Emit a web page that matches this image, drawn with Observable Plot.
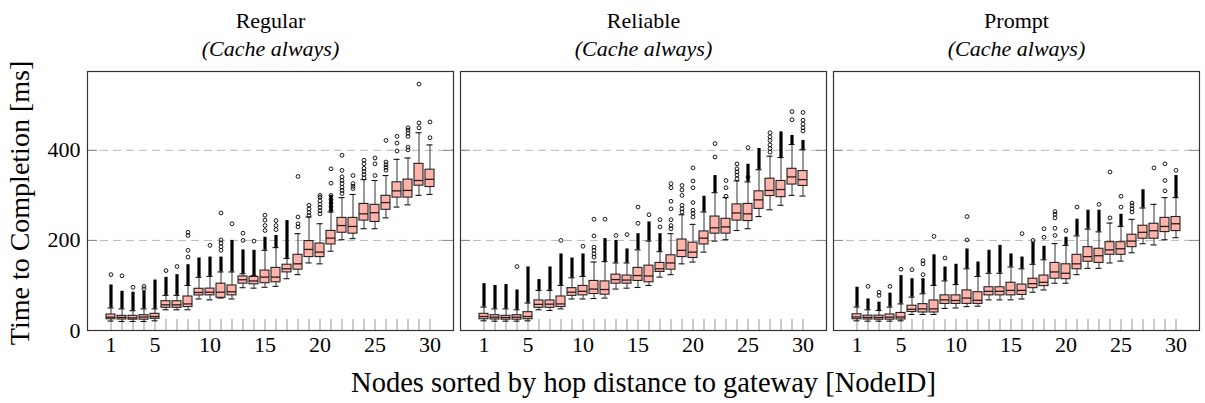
<!DOCTYPE html>
<html><head><meta charset="utf-8">
<script src="https://cdn.jsdelivr.net/npm/d3@7"></script>
<script src="https://cdn.jsdelivr.net/npm/@observablehq/plot@0.6"></script>
<style>
body{margin:0;background:#fff;}
#chart{width:1205px;height:403px;}
#chart svg text{font-family:'Liberation Serif','DejaVu Serif',serif;}
</style></head><body><div id="chart"></div>
<script>
const panels = ["Regular", "Reliable", "Prompt"];
const subtitle = "(Cache always)";
const xLabel = "Nodes sorted by hop distance to gateway [NodeID]";
const yLabel = "Time to Completion [ms]";
const nodes = d3.range(1, 31);
const xTickLabels = [1, 5, 10, 15, 20, 25, 30];
const yTickLabels = [0, 200, 400];
const gridValues = [200, 400];

// [node, lowWhisker, q1, median, q3, highWhisker, top of dense outlier column]
const regularStats = [
  [1, 21, 25, 29.6, 35.5, 50, 101], [2, 20, 24.4, 29, 32.6, 48, 87], [3, 20, 24, 28, 32.6, 44, 85],
  [4, 20, 24, 30, 34, 48, 87], [5, 21.5, 26, 31, 37, 48, 112], [6, 46, 50.4, 57, 65, 78, 118],
  [7, 46, 50.4, 57, 65, 78, 124], [8, 46, 52, 59, 75.5, 100, 146], [9, 70, 77.8, 84.4, 92.6, 118, 161],
  [10, 68, 78, 85, 93, 120, 163], [11, 72, 72.6, 85, 104, 130, 163], [12, 70, 78, 86, 100, 130, 200],
  [13, 95, 104, 112.6, 120, 126, 179], [14, 94, 102.5, 110, 119, 122, 178], [15, 96, 105, 118.5, 133, 178, 207],
  [16, 98, 107, 118.5, 139, 184, 211], [17, 115, 129, 137, 146, 160, 244], [18, 124, 135, 148, 168, 215, null],
  [19, 150, 163, 180, 198.5, 252, null], [20, 148, 163, 174, 193, 237, null], [21, 176, 191, 205, 221, 263, 300],
  [22, 201.5, 217, 233, 250, 295, null], [23, 204, 215, 231, 250, 302, null], [24, 226, 244, 259, 281, 335, null],
  [25, 226, 241, 261.5, 279, 333, null], [26, 250, 268, 284, 299, 344, null], [27, 274, 295, 310, 329, 380, null],
  [28, 279, 295, 311, 335, 383, null], [29, 300, 321.5, 333, 370, 439, null], [30, 302, 318.5, 335.5, 357, 412, null]
];
const reliableStats = [
  [1, 21.5, 25, 31, 37, 52, 104], [2, 20.7, 24.4, 29.6, 34, 48, 100], [3, 20.7, 24, 28.9, 32.6, 48, 102],
  [4, 20.7, 24, 29.6, 34, 46, 90], [5, 21.5, 25, 31, 40.7, 61, 141], [6, 46, 50.4, 58, 66.7, 89, 113],
  [7, 44.5, 50.4, 58.5, 66.7, 89, 141], [8, 48, 52, 59, 75.5, 100, 170], [9, 70, 77, 85, 94, 117, 161],
  [10, 70, 78, 87, 99, 120, 170], [11, 71, 81, 92, 110, 152, null], [12, 72, 79.5, 91, 109, 153, 204],
  [13, 92, 104, 113, 124, 150, 200], [14, 94, 104, 112, 122, 150, 181], [15, 95.5, 110, 122, 139, 179, 215],
  [16, 100, 107, 121, 144, 198.5, 241], [17, 118.5, 130, 137, 150, 175, 215], [18, 124, 135, 150, 167, 215, null],
  [19, 148, 163, 178, 202, 257, null], [20, 152, 161, 174, 195, 235.6, null], [21, 174, 191, 205, 220, 263, 298],
  [22, 198.5, 215, 228, 253, 306, 344], [23, 201.5, 215, 230, 248, 295, null], [24, 222, 244, 261, 280, 332, null],
  [25, 226, 243, 259, 281, 330, 369], [26, 253, 270, 290, 309, 357, 404], [27, 268, 298.5, 311, 337, 387, null],
  [28, 278, 296, 313, 332, 384, 441], [29, 300, 324, 341, 359, 413, 433], [30, 298.5, 321, 335, 354, 401.5, 422]
];
const promptStats = [
  [1, 21.5, 25, 30, 36, 52, 96], [2, 20.7, 24.4, 29, 33, 46, 70], [3, 20.7, 24, 28.9, 33, 44.4, 63],
  [4, 20.7, 24, 29.6, 35.6, 52, 83], [5, 21.5, 24.4, 30, 39, 59, 122], [6, 35.6, 41, 47, 55, 74, 115],
  [7, 35.6, 40, 48, 58.5, 81.5, 115], [8, 35.6, 40, 48, 66.7, 100, 168], [9, 49, 59, 68, 78, 110, 141],
  [10, 50, 59, 66.7, 78, 102, 147], [11, 53, 59, 72, 89, 137, 181], [12, 54, 59, 67, 85, 120, 152],
  [13, 68, 78, 87, 96, 127, 178], [14, 68, 78, 87, 96, 127, 189], [15, 68, 78, 89, 106, 141, 170],
  [16, 70, 79, 89, 102, 137, 163], [17, 85, 94, 104, 115, 147, 196], [18, 90, 98.5, 107, 122, 157, 187],
  [19, 105, 115, 130, 150, 193, null], [20, 105, 114, 127, 147, 189, 207], [21, 124, 136, 148, 168, 210, 247],
  [22, 138, 152.6, 164, 185, 225, 267], [23, 138, 150, 166, 181.5, 219, 267], [24, 150, 168, 179, 196, 238.5, null],
  [25, 154, 168, 181.5, 196, 231, 258], [26, 172.6, 185, 198.5, 212.6, 246.7, null], [27, 192.6, 203.7, 218, 232.6, 272, 312.6],
  [28, 190, 203.7, 221.5, 237, 280, null], [29, 201.5, 218.5, 231, 250, 295, null], [30, 206, 220.7, 237, 252, 295, 344]
];

// [node, value] of individually visible outliers
const regularOutliers = [
  [1, 124], [2, 121.5], [3, 96], [4, 92.6], [4, 98], [6, 133], [7, 142], [8, 163], [8, 178], [8, 211], [8, 218],
  [10, 189], [11, 178], [11, 186], [11, 194], [11, 201], [11, 261], [12, 237], [13, 200], [13, 216], [14, 198.5],
  [15, 222], [15, 233], [15, 245], [15, 256], [16, 224], [16, 233], [16, 244], [18, 230], [18, 237], [18, 252], [18, 342],
  [19, 255], [19, 262], [19, 270], [19, 278], [20, 259], [20, 266], [20, 273], [20, 280], [20, 288], [20, 296], [20, 300],
  [21, 267], [21, 275], [21, 283], [21, 291], [21, 300], [21, 327], [21, 359],
  [22, 304], [22, 311], [22, 318], [22, 326], [22, 333], [22, 341], [22, 355.5], [22, 389],
  [23, 315], [23, 320], [23, 326], [23, 344], [24, 339], [24, 346], [24, 353], [24, 360], [24, 370], [24, 378],
  [25, 344], [25, 370], [25, 383], [26, 356], [26, 362], [26, 368], [26, 374], [26, 422],
  [27, 398.5], [27, 416], [27, 431], [28, 401], [28, 407], [28, 431], [28, 438], [28, 445], [28, 450],
  [29, 450], [29, 461], [29, 547], [30, 428], [30, 463]
];
const reliableOutliers = [
  [4, 142], [8, 200], [10, 187], [11, 163], [11, 170], [11, 178], [11, 185], [11, 210], [11, 247], [12, 247],
  [13, 211], [14, 213], [15, 238], [15, 274], [16, 257], [17, 230], [17, 246],
  [18, 226], [18, 233], [18, 246], [18, 270], [18, 287], [18, 317], [18, 326],
  [19, 263], [19, 270], [19, 278], [19, 300], [19, 312], [19, 322],
  [20, 252], [20, 260], [20, 267], [20, 284], [20, 317], [20, 332], [20, 361],
  [22, 385], [22, 415], [23, 298], [23, 317], [23, 333],
  [24, 337], [24, 345], [24, 352], [24, 359], [24, 370], [25, 341], [25, 406],
  [27, 396], [27, 404], [27, 412], [27, 422], [27, 430], [27, 439],
  [29, 468], [29, 486], [30, 443], [30, 450], [30, 458], [30, 467], [30, 484]
];
const promptOutliers = [
  [2, 98], [3, 78], [3, 85], [4, 98], [5, 136], [6, 135], [7, 124], [7, 148], [7, 155], [8, 209], [9, 161],
  [11, 201], [11, 253], [16, 215], [17, 200], [18, 207], [18, 226],
  [19, 211], [19, 227], [19, 250], [19, 258], [19, 264], [20, 222], [21, 274], [23, 280],
  [24, 250], [24, 352], [25, 274], [25, 298], [26, 263], [26, 270], [26, 277], [26, 283],
  [28, 361], [29, 310], [29, 333], [29, 370], [30, 355.5]
];

const statsByPanel = {Regular: regularStats, Reliable: reliableStats, Prompt: promptStats};
const outliersByPanel = {Regular: regularOutliers, Reliable: reliableOutliers, Prompt: promptOutliers};

const stats = panels.flatMap(panel => statsByPanel[panel].map(([node, lo, q1, med, q3, hi, dense]) =>
  ({panel, node, lo, q1, med, q3, hi, dense})));
const denseCols = stats.filter(d => d.dense != null);
const outliers = panels.flatMap(panel => outliersByPanel[panel].map(([node, v]) => ({panel, node, v})));

const serif = "Liberation Serif";

const chart = Plot.plot({
  width: 1205,
  height: 403,
  marginTop: 71,
  marginBottom: 73,
  marginLeft: 86,
  marginRight: 6,
  style: {fontFamily: serif, fontSize: "22px", background: "#fff", color: "#000"},
  fx: {domain: panels, paddingInner: 0.02, paddingOuter: 0, axis: null, label: null},
  x: {type: "band", domain: nodes, paddingInner: 0.2, paddingOuter: 0.41, axis: null},
  y: {domain: [0, 575], axis: null},
  marks: [
    Plot.ruleY(gridValues, {stroke: "#b8b8b8", strokeWidth: 1, strokeDasharray: "8,5"}),
    Plot.tickY(gridValues, {stroke: "#888", insetRight: 356}),
    Plot.tickY(gridValues, {stroke: "#888", insetLeft: 356}),
    Plot.tickX(nodes, {x: d => d, stroke: "#a8a8a8", strokeWidth: 1.2, insetTop: 248}),
    Plot.ruleX(stats, {fx: "panel", x: "node", y1: "lo", y2: "hi", stroke: "#333", strokeWidth: 1}),
    Plot.ruleX(denseCols, {fx: "panel", x: "node", y1: "hi", y2: "dense", stroke: "#000", strokeWidth: 3.2}),
    Plot.tickY(stats, {fx: "panel", x: "node", y: "lo", stroke: "#111", strokeWidth: 1.1, insetLeft: 1.5, insetRight: 1.5}),
    Plot.tickY(stats, {fx: "panel", x: "node", y: "hi", stroke: "#111", strokeWidth: 1.1, insetLeft: 1.5, insetRight: 1.5}),
    Plot.barY(stats, {fx: "panel", x: "node", y1: "q1", y2: "q3", fill: "#ffb4ab", stroke: "#222", strokeWidth: 1.1}),
    Plot.tickY(stats, {fx: "panel", x: "node", y: "med", stroke: "#2a1a1a", strokeWidth: 1.3}),
    Plot.dot(outliers, {fx: "panel", x: "node", y: "v", r: 1.9, stroke: "#000", strokeWidth: 0.9, fill: "none"}),
    Plot.frame({stroke: "#333", strokeWidth: 1.2}),
    Plot.axisY({ticks: yTickLabels, tickSize: 0, tickPadding: 7, label: null, fontSize: 22, fontFamily: serif}),
    Plot.axisX({ticks: xTickLabels, tickSize: 0, tickPadding: 6, label: null, fontSize: 22, fontFamily: serif}),
    Plot.text(panels, {fx: d => d, text: d => d, frameAnchor: "top", dy: -51, lineAnchor: "middle", fontSize: 22, fontFamily: serif}),
    Plot.text(panels, {fx: d => d, text: () => subtitle, frameAnchor: "top", dy: -23, lineAnchor: "middle", fontSize: 22, fontStyle: "italic", fontFamily: serif}),
    Plot.text([yLabel], {fx: () => "Regular", text: d => d, frameAnchor: "left", textAnchor: "middle", dx: -67, dy: 2, rotate: -90, lineAnchor: "middle", fontSize: 28, fontFamily: serif}),
    Plot.text([xLabel], {fx: () => "Reliable", text: d => d, frameAnchor: "bottom", textAnchor: "middle", dy: 52, lineAnchor: "middle", fontSize: 28.5, fontFamily: serif})
  ]
});
document.getElementById("chart").appendChild(chart);
</script></body></html>
